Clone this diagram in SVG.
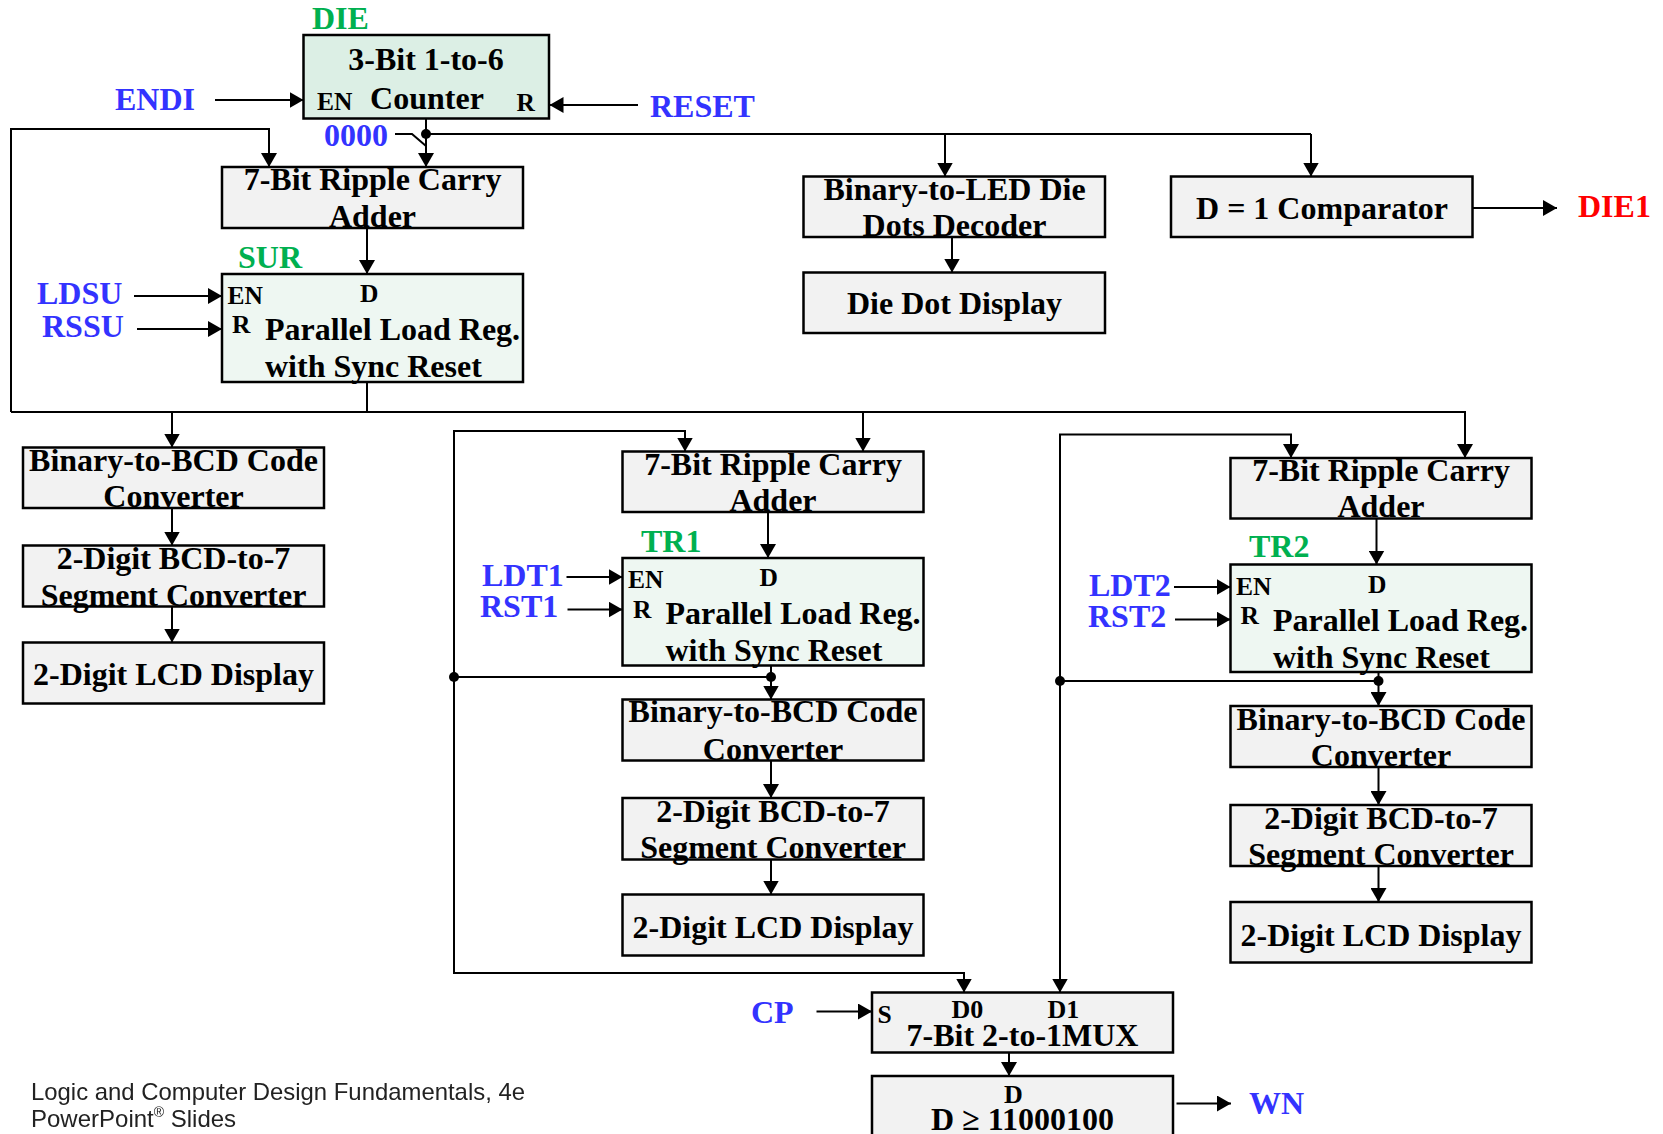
<svg xmlns="http://www.w3.org/2000/svg" width="1663" height="1134" viewBox="0 0 1663 1134">
  <defs>
    <marker id="ah" markerUnits="userSpaceOnUse" markerWidth="15" markerHeight="16" refX="14" refY="8" orient="auto">
      <path d="M0,0 L14,8 L0,16 z" fill="#000"/>
    </marker>
    <filter id="soft" x="-5%" y="-20%" width="110%" height="140%">
      <feGaussianBlur stdDeviation="0.7"/>
    </filter>
  </defs>
  <style>
    text { font-family: "Liberation Serif", "Times New Roman", serif; font-weight: bold; }
    .box { stroke: #000; stroke-width: 2.5; }
    .gray { fill: #f2f2f2; }
    .cnt { fill: #dcefe5; }
    .reg { fill: #eef7f2; }
    .t { font-size: 32px; fill: #000; }
    .s { font-size: 25.5px; fill: #000; }
    .p { font-size: 26px; fill: #000; }
    .blue { font-size: 32px; fill: #3333ff; }
    .green { font-size: 32px; fill: #00b050; }
    .red { font-size: 32px; fill: #ff0000; }
    .wire { fill: none; stroke: #000; stroke-width: 2; }
    .arr { marker-end: url(#ah); }
    .dot { fill: #000; }
    .foot { font-family: "Liberation Sans", Arial, sans-serif; font-weight: normal; font-size: 24px; fill: #222; }
  </style>

  <rect width="1663" height="1134" fill="#fff"/>

  <!-- connectors -->
  <g id="connectors">
    <path class="wire arr" d="M215,100 H303.5"/>
    <path class="wire arr" d="M638,105 H549.5"/>
    <path class="wire arr" d="M426,118.5 V167"/>
    <path class="wire" d="M426,134 H1311"/>
    <path class="wire arr" d="M1311,134 V176.5"/>
    <path class="wire arr" d="M945,134 V176.5"/>
    <path class="wire" d="M395,134 H412 L426,146"/>
    <circle class="dot" cx="426" cy="134" r="5"/>

    <path class="wire arr" d="M11,412 V129 H269 V167"/>
    <path class="wire arr" d="M367,228 V274"/>
    <path class="wire arr" d="M134,296 H222"/>
    <path class="wire arr" d="M137,329 H222"/>
    <path class="wire" d="M367,382 V412"/>
    <path class="wire arr" d="M11,412 H1465 V458"/>
    <path class="wire arr" d="M172,412 V447.5"/>
    <path class="wire arr" d="M863,412 V451.5"/>

    <path class="wire arr" d="M952,237 V272.5"/>
    <path class="wire arr" d="M1472.5,208 H1557"/>

    <path class="wire arr" d="M172,508 V545.5"/>
    <path class="wire arr" d="M172,606.5 V642.5"/>

    <path class="wire arr" d="M454,677 V431 H685 V451.5"/>
    <path class="wire arr" d="M454,677 V973 H964 V992.5"/>
    <path class="wire arr" d="M768,511.5 V558"/>
    <path class="wire arr" d="M566.5,577 H622.5"/>
    <path class="wire arr" d="M567.5,609.5 H622.5"/>
    <path class="wire arr" d="M771,665.5 V699.5"/>
    <path class="wire" d="M771,677 H454"/>
    <circle class="dot" cx="771" cy="677" r="5"/>
    <circle class="dot" cx="454" cy="677" r="5"/>
    <path class="wire arr" d="M771,760.5 V798"/>
    <path class="wire arr" d="M771,859.5 V894.5"/>

    <path class="wire arr" d="M1060,681 V434.5 H1291 V458"/>
    <path class="wire arr" d="M1060,681 V992.5"/>
    <path class="wire arr" d="M1376.5,518.5 V564.5"/>
    <path class="wire arr" d="M1174,587 H1230.5"/>
    <path class="wire arr" d="M1175,619.5 H1230.5"/>
    <path class="wire arr" d="M1378.5,672 V706"/>
    <path class="wire" d="M1378.5,681 H1060"/>
    <circle class="dot" cx="1378.5" cy="681" r="5"/>
    <circle class="dot" cx="1060" cy="681" r="5"/>
    <path class="wire arr" d="M1378.5,767 V805"/>
    <path class="wire arr" d="M1378.5,866 V902"/>

    <path class="wire arr" d="M816.5,1011.5 H872"/>
    <path class="wire arr" d="M1009,1052.5 V1076"/>
    <path class="wire arr" d="M1176.5,1103.5 H1231"/>
  </g>

  <!-- signal names -->
  <g id="signals">
    <text class="blue" x="115" y="109.5">ENDI</text>
    <text class="blue" x="650" y="117">RESET</text>
    <text class="blue" x="324" y="145.5">0000</text>
    <text class="blue" x="37" y="304">LDSU</text>
    <text class="blue" x="42" y="337">RSSU</text>
    <text class="blue" x="482" y="586">LDT1</text>
    <text class="blue" x="480" y="617">RST1</text>
    <text class="blue" x="1089" y="596">LDT2</text>
    <text class="blue" x="1088" y="626.5">RST2</text>
    <text class="blue" x="751" y="1022.5">CP</text>
    <text class="blue" x="1249" y="1114">WN</text>
    <text class="red" x="1578" y="217">DIE1</text>
  </g>

  <!-- die counter -->
  <g id="die-counter">
    <text class="green" x="312" y="28.5">DIE</text>
    <rect class="box cnt" x="303.5" y="35" width="245.5" height="83.5"/>
    <text class="t" x="426" y="70" text-anchor="middle">3-Bit 1-to-6</text>
    <text class="t" x="427" y="108.5" text-anchor="middle">Counter</text>
    <text class="s" x="317" y="109.5">EN</text>
    <text class="s" x="516.5" y="111">R</text>
  </g>

  <!-- sum branch -->
  <g id="sum-adder">
    <rect class="box gray" x="222" y="167" width="301" height="61"/>
    <text class="t" x="372.5" y="190" text-anchor="middle">7-Bit Ripple Carry</text>
    <text class="t" x="372.5" y="227" text-anchor="middle">Adder</text>
  </g>
  <g id="sum-register">
    <text class="green" x="238" y="267.5">SUR</text>
    <rect class="box reg" x="222" y="274" width="301" height="108"/>
    <text class="s" x="227.5" y="304">EN</text>
    <text class="s" x="360" y="302">D</text>
    <text class="s" x="232" y="333">R</text>
    <text class="t" x="265" y="340">Parallel Load Reg.</text>
    <text class="t" x="265" y="377">with Sync Reset</text>
  </g>
  <g id="sum-bcd">
    <rect class="box gray" x="23" y="447.5" width="301" height="60.5"/>
    <text class="t" x="173.5" y="470.5" text-anchor="middle">Binary-to-BCD Code</text>
    <text class="t" x="173.5" y="507" text-anchor="middle">Converter</text>
  </g>
  <g id="sum-seg">
    <rect class="box gray" x="23" y="545.5" width="301" height="61"/>
    <text class="t" x="173.5" y="569" text-anchor="middle">2-Digit BCD-to-7</text>
    <text class="t" x="173.5" y="605.5" text-anchor="middle">Segment Converter</text>
  </g>
  <g id="sum-lcd">
    <rect class="box gray" x="23" y="642.5" width="301" height="61"/>
    <text class="t" x="173.5" y="684.5" text-anchor="middle">2-Digit LCD Display</text>
  </g>

  <!-- die display and comparator -->
  <g id="led-decoder">
    <rect class="box gray" x="803.5" y="176.5" width="301.5" height="60.5"/>
    <text class="t" x="954.5" y="200" text-anchor="middle">Binary-to-LED Die</text>
    <text class="t" x="954.5" y="235.5" text-anchor="middle">Dots Decoder</text>
  </g>
  <g id="die-display">
    <rect class="box gray" x="803.5" y="272.5" width="301.5" height="60.5"/>
    <text class="t" x="954.5" y="314" text-anchor="middle">Die Dot Display</text>
  </g>
  <g id="comparator">
    <rect class="box gray" x="1171" y="176.5" width="301.5" height="60.5"/>
    <text class="t" x="1322" y="218.5" text-anchor="middle">D = 1 Comparator</text>
  </g>

  <!-- total 1 branch -->
  <g id="tr1-adder">
    <rect class="box gray" x="622.5" y="451.5" width="301" height="60.5"/>
    <text class="t" x="773" y="475" text-anchor="middle">7-Bit Ripple Carry</text>
    <text class="t" x="773" y="510.5" text-anchor="middle">Adder</text>
  </g>
  <g id="tr1-register">
    <text class="green" x="641" y="551.5">TR1</text>
    <rect class="box reg" x="622.5" y="558" width="301" height="107.5"/>
    <text class="s" x="628" y="587.5">EN</text>
    <text class="s" x="759.5" y="586">D</text>
    <text class="s" x="633" y="618">R</text>
    <text class="t" x="665.5" y="624">Parallel Load Reg.</text>
    <text class="t" x="665.5" y="661">with Sync Reset</text>
  </g>
  <g id="tr1-bcd">
    <rect class="box gray" x="622.5" y="699.5" width="301" height="61"/>
    <text class="t" x="773" y="722" text-anchor="middle">Binary-to-BCD Code</text>
    <text class="t" x="773" y="759.5" text-anchor="middle">Converter</text>
  </g>
  <g id="tr1-seg">
    <rect class="box gray" x="622.5" y="798" width="301" height="61.5"/>
    <text class="t" x="773" y="821.5" text-anchor="middle">2-Digit BCD-to-7</text>
    <text class="t" x="773" y="858" text-anchor="middle">Segment Converter</text>
  </g>
  <g id="tr1-lcd">
    <rect class="box gray" x="622.5" y="894.5" width="301" height="61"/>
    <text class="t" x="773" y="937.5" text-anchor="middle">2-Digit LCD Display</text>
  </g>

  <!-- total 2 branch -->
  <g id="tr2-adder">
    <rect class="box gray" x="1230.5" y="458" width="301" height="60.5"/>
    <text class="t" x="1381" y="481" text-anchor="middle">7-Bit Ripple Carry</text>
    <text class="t" x="1381" y="517" text-anchor="middle">Adder</text>
  </g>
  <g id="tr2-register">
    <text class="green" x="1249" y="557">TR2</text>
    <rect class="box reg" x="1230.5" y="564.5" width="301" height="107.5"/>
    <text class="s" x="1236" y="595">EN</text>
    <text class="s" x="1368" y="592.5">D</text>
    <text class="s" x="1240.5" y="624">R</text>
    <text class="t" x="1273" y="631">Parallel Load Reg.</text>
    <text class="t" x="1273" y="668">with Sync Reset</text>
  </g>
  <g id="tr2-bcd">
    <rect class="box gray" x="1230.5" y="706" width="301" height="61"/>
    <text class="t" x="1381" y="729.5" text-anchor="middle">Binary-to-BCD Code</text>
    <text class="t" x="1381" y="766" text-anchor="middle">Converter</text>
  </g>
  <g id="tr2-seg">
    <rect class="box gray" x="1230.5" y="805" width="301" height="61"/>
    <text class="t" x="1381" y="829" text-anchor="middle">2-Digit BCD-to-7</text>
    <text class="t" x="1381" y="865" text-anchor="middle">Segment Converter</text>
  </g>
  <g id="tr2-lcd">
    <rect class="box gray" x="1230.5" y="902" width="301" height="60.5"/>
    <text class="t" x="1381" y="945.5" text-anchor="middle">2-Digit LCD Display</text>
  </g>

  <!-- selection and win test -->
  <g id="mux">
    <rect class="box gray" x="872" y="992.5" width="301" height="60"/>
    <text class="s" x="877.5" y="1022.5">S</text>
    <text class="p" x="951.5" y="1018">D0</text>
    <text class="p" x="1047.5" y="1018">D1</text>
    <text class="t" x="1022.5" y="1046" text-anchor="middle">7-Bit 2-to-1MUX</text>
  </g>
  <g id="win-compare">
    <rect class="box gray" x="872" y="1076" width="301" height="80"/>
    <text class="p" x="1004" y="1102.5">D</text>
    <text class="t" x="1022.5" y="1129.5" text-anchor="middle">D ≥ 11000100</text>
  </g>

  <!-- footer -->
  <g id="footer" filter="url(#soft)">
    <text class="foot" x="31" y="1100" textLength="494" lengthAdjust="spacingAndGlyphs">Logic and Computer Design Fundamentals, 4e</text>
    <text class="foot" x="31" y="1126.5">PowerPoint<tspan font-size="14" dy="-10">®</tspan><tspan dy="10"> Slides</tspan></text>
  </g>
</svg>
